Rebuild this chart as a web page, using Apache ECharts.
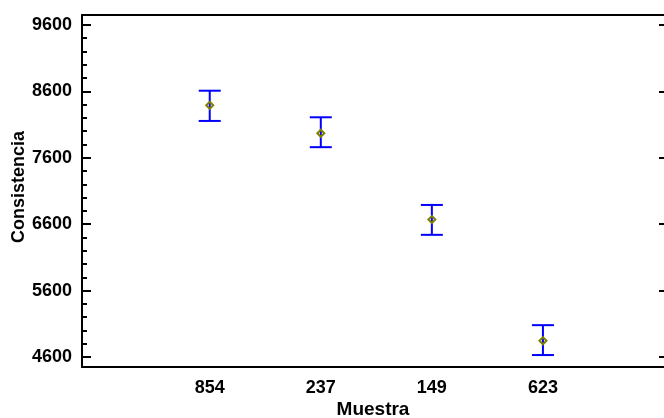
<!DOCTYPE html>
<html>
<head>
<meta charset="utf-8">
<script src="https://cdn.jsdelivr.net/npm/echarts@6/dist/echarts.min.js"></script>
<style>html,body{margin:0;padding:0;background:#fff}#c{width:664px;height:418px}</style>
</head>
<body>
<div id="c"></div>
<script>
var categories = ['854', '237', '149', '623'];
var means = [8390, 7970, 6670, 4845];
var lower = [8155, 7760, 6440, 4630];
var upper = [8610, 8210, 6890, 5080];
var yMajorTicks = [4600, 5600, 6600, 7600, 8600, 9600];
var yMinorTicks = [4800, 5000, 5200, 5400, 5800, 6000, 6200, 6400, 6800, 7000, 7200, 7400, 7800, 8000, 8200, 8400, 8800, 9000, 9200, 9400];

var positions = categories.map(function (c, i) { return i + 1; });
var barData = categories.map(function (c, i) { return [positions[i], means[i], lower[i], upper[i]]; });

var chart = echarts.init(document.getElementById('c'), null, {renderer: 'canvas'});
var font = 'Liberation Sans, Arial, sans-serif';
chart.setOption({
  animation: false,
  backgroundColor: '#fff',
  grid: {left: 82, right: 0, top: 15, bottom: 51, containLabel: false, outerBoundsMode: 'none'},
  xAxis: [{
    type: 'value', min: -0.15, max: 5.09,
    axisLine: {show: true, onZero: false, lineStyle: {color: '#000', width: 2}},
    axisTick: {show: false},
    splitLine: {show: false},
    axisLabel: {
      customValues: positions, margin: 12,
      color: '#000', fontFamily: font, fontWeight: 'bold', fontSize: 18,
      formatter: function (v) { return categories[Math.round(v) - 1] || ''; }
    }
  }, {
    type: 'value', min: -0.15, max: 5.09, position: 'top',
    axisLine: {show: true, onZero: false, lineStyle: {color: '#000', width: 2}},
    axisTick: {show: false}, axisLabel: {show: false}, splitLine: {show: false}
  }],
  yAxis: [{
    type: 'value', min: 4450, max: 9750, position: 'left',
    axisLine: {show: true, onZero: false, lineStyle: {color: '#000', width: 2}},
    axisTick: {show: true, inside: true, length: 9, customValues: yMajorTicks, lineStyle: {color: '#000', width: 2}},
    splitLine: {show: false},
    axisLabel: {customValues: yMajorTicks, margin: 10, color: '#000', fontFamily: font, fontWeight: 'bold', fontSize: 18,
      formatter: function (v) { return String(v); }}
  }, {
    type: 'value', min: 4450, max: 9750, position: 'left',
    axisLine: {show: false, onZero: false},
    axisTick: {show: true, inside: true, length: 5, customValues: yMinorTicks, lineStyle: {color: '#000', width: 2}},
    splitLine: {show: false}, axisLabel: {show: false}
  }, {
    type: 'value', min: 4450, max: 9750, position: 'right',
    axisLine: {show: false, onZero: false},
    axisTick: {show: true, inside: true, length: 5, customValues: yMajorTicks, lineStyle: {color: '#000', width: 2}},
    splitLine: {show: false}, axisLabel: {show: false}
  }],
  series: [{
    type: 'custom',
    xAxisIndex: 0, yAxisIndex: 0,
    data: barData,
    renderItem: function (params, api) {
      var x = api.value(0);
      var pm = api.coord([x, api.value(1)]);
      var pl = api.coord([x, api.value(2)]);
      var pu = api.coord([x, api.value(3)]);
      var hw = 11, d = 3.5;
      var blue = {stroke: '#0000ff', lineWidth: 2};
      return {
        type: 'group',
        children: [
          {type: 'line', shape: {x1: pm[0], y1: pu[1], x2: pm[0], y2: pl[1]}, style: blue},
          {type: 'line', shape: {x1: pm[0] - hw, y1: pu[1], x2: pm[0] + hw, y2: pu[1]}, style: blue},
          {type: 'line', shape: {x1: pm[0] - hw, y1: pl[1], x2: pm[0] + hw, y2: pl[1]}, style: blue},
          {type: 'polygon', shape: {points: [[pm[0], pm[1] - d], [pm[0] + d, pm[1]], [pm[0], pm[1] + d], [pm[0] - d, pm[1]]]},
           style: {fill: 'none', stroke: '#808000', lineWidth: 2}}
        ]
      };
    }
  }],
  graphic: [
    {type: 'text', x: 19, y: 187, rotation: Math.PI / 2,
     style: {text: 'Consistencia', fill: '#000', font: 'bold 18px ' + font, align: 'center', verticalAlign: 'middle'}},
    {type: 'text', x: 373, y: 410,
     style: {text: 'Muestra', fill: '#000', font: 'bold 19px ' + font, align: 'center', verticalAlign: 'middle'}}
  ]
});
</script>
</body>
</html>
